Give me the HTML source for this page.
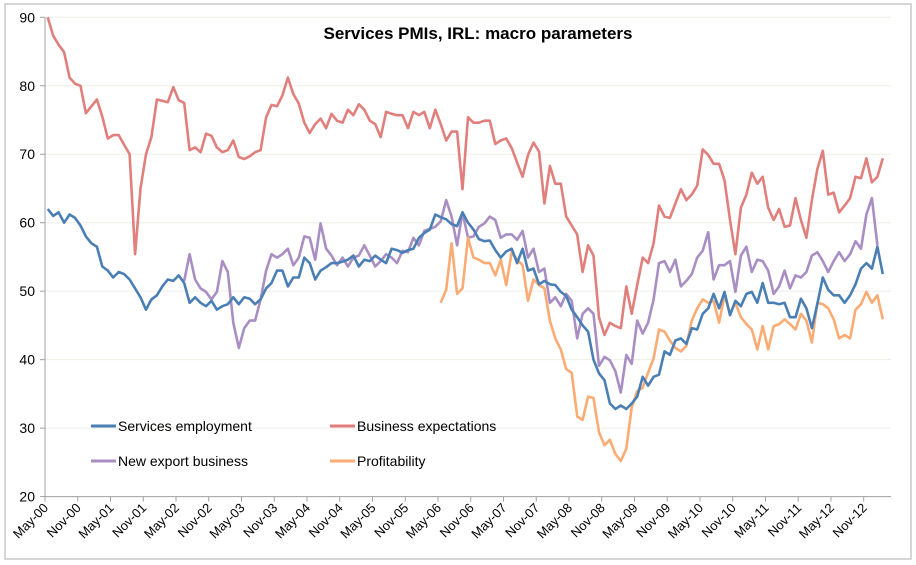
<!DOCTYPE html>
<html><head><meta charset="utf-8"><style>
html,body{margin:0;padding:0;background:#fff;}
svg{display:block;font-family:"Liberation Sans",Calibri,sans-serif;}
</style></head><body>
<svg id="chart" width="916" height="565" viewBox="0 0 916 565">
<rect x="5" y="4" width="906" height="555" fill="#fff" stroke="#c8c8c8" stroke-width="1.5"/>
<text x="478" y="39" text-anchor="middle" font-size="17" font-weight="bold" fill="#000">Services PMIs, IRL: macro parameters</text>
<g id="grid"></g><g id="axes"></g><g id="series"></g>
<g>
<g><line x1="91" y1="426" x2="116" y2="426" stroke="#4a7fb5" stroke-width="3"/><text x="118" y="431" font-size="14">Services employment</text></g>
<g><line x1="330" y1="426" x2="355" y2="426" stroke="#e07f7c" stroke-width="3"/><text x="357" y="431" font-size="14">Business expectations</text></g>
<g><line x1="91" y1="461" x2="116" y2="461" stroke="#a98ec3" stroke-width="3"/><text x="118" y="466" font-size="14">New export business</text></g>
<g><line x1="330" y1="461" x2="355" y2="461" stroke="#fbab74" stroke-width="3"/><text x="357" y="466" font-size="14">Profitability</text></g>
</g>
</svg>
<script>
const tickLabels = ["May-00","Nov-00","May-01","Nov-01","May-02","Nov-02","May-03","Nov-03","May-04","Nov-04","May-05","Nov-05","May-06","Nov-06","May-07","Nov-07","May-08","Nov-08","May-09","Nov-09","May-10","Nov-10","May-11","Nov-11","May-12","Nov-12"];
const yTicks = [20,30,40,50,60,70,80,90];
const employment = [62,61,61.5,60,61.2,60.7,59.6,58,57,56.5,53.6,53,52,52.8,52.5,51.7,50.4,49.1,47.3,48.8,49.4,50.7,51.7,51.5,52.3,51.2,48.3,49.1,48.3,47.8,48.6,47.3,47.8,48.1,49.1,48.1,49.1,48.9,48.1,48.8,50.4,51.2,53,53,50.7,52,52,54.9,54.1,51.7,53,53.5,54.1,54.1,54.3,54.6,55.2,53.6,54.6,54.4,55.2,54.6,54.1,56.2,56,55.6,56,56.2,57.8,58.5,59,61.2,60.8,60.5,59.8,59.5,61.5,60,59,57.6,57.3,57.4,56,54.9,55.8,56.2,54.1,56.2,53,53.3,51,51.5,51,50.9,49.9,49.3,47.3,46.2,45,44.1,40,38,37,33.6,32.8,33.3,32.8,33.6,34.6,37.5,36.2,37.5,37.8,41.2,40.7,42.8,43.1,42.3,44.6,44.4,46.7,47.5,49.6,47.5,49.9,46.5,48.6,47.8,49.6,49.9,48.3,51.2,48.3,48.3,48.1,48.3,46.2,46.2,48.9,47.5,44.6,48.1,52,50.2,49.4,49.4,48.3,49.4,51,53.3,54.1,53.3,56.5,52.5];
const expectations = [90,87.3,86,84.9,81.2,80.3,80,76,77,78,75.5,72.3,72.8,72.8,71.4,70,55.4,65,70,72.5,78,77.8,77.6,79.8,77.9,77.5,70.6,71,70.3,73,72.7,71,70.3,70.6,72,69.6,69.3,69.7,70.3,70.6,75.4,77.2,77,78.6,81.2,78.8,77.4,74.6,73.1,74.4,75.2,73.8,75.9,74.9,74.6,76.5,75.7,77.3,76.5,74.9,74.4,72.5,76.2,75.9,75.7,75.7,73.8,76.2,75.7,76.2,73.8,76.5,74.4,72,73.3,73.3,64.9,75.4,74.6,74.6,74.9,74.9,71.5,72,72.3,70.9,68.8,66.7,69.9,71.7,70.4,62.8,68.3,65.7,65.7,60.9,59.6,58.3,52.8,56.7,55.2,46.2,43.6,45.4,44.9,44.6,50.7,46.7,50.9,54.9,54.1,57,62.5,60.9,60.7,62.8,64.9,63.3,64.1,65.4,70.7,69.9,68.6,68.6,66.2,60.4,55.4,62.2,64.1,67.3,65.7,66.7,62.2,60.4,62,59.4,59.6,63.6,60.4,57.8,63.3,67.8,70.5,64.1,64.4,61.5,62.5,63.6,66.7,66.5,69.4,65.9,66.7,69.4];
const exportStart = 25;
const exportBiz = [51.5,55.4,51.7,50.4,49.9,48.8,49.9,54.4,52.8,45.4,41.7,44.6,45.7,45.7,48.8,53,55.4,54.9,55.4,56.2,53.8,54.9,58,57.8,54.6,59.9,56.2,55.2,53.8,54.9,53.6,54.9,55.2,56.7,55.2,53.6,54.4,55.4,54.9,54.1,55.9,55.7,57.8,56.7,58.8,59.1,59.4,60.2,63.3,60.9,56.7,61.5,57.8,58,59.4,59.9,60.9,60.4,57.8,58.3,58.3,57.5,58.8,54.9,56.2,52.8,53.3,48.3,49.1,47.8,49.6,48.6,43.1,46.7,47.5,46.7,39.1,40.4,39.9,38.3,35.2,40.7,39.4,45.7,43.8,45.4,48.8,54.1,54.4,52.8,54.6,50.7,51.5,52.5,54.9,55.9,58.6,51.7,53.8,53.8,54.4,49.9,55.2,56.5,52.8,54.6,54.4,53,49.6,50.7,53,50.4,52.3,52,52.8,55.2,55.7,54.4,52.8,54.4,55.7,54.4,55.4,57.3,56.2,61.2,63.6,56.7];
const profitStart = 72;
const profitability = [48.3,50.2,57,49.6,50.4,57.8,54.9,54.6,54.1,54.1,52.3,54.6,50.9,55.7,54.6,53.8,48.6,51.7,50.9,50.4,45.7,43.1,41.5,38.6,38.1,31.7,31.2,34.6,34.4,29.4,27.5,28.3,26.2,25.2,27,33,35.4,35.9,38.1,40.2,44.4,44.1,42.8,41.7,41.2,42,45.7,47.5,48.8,48.3,48.6,45.4,49.4,46.7,48.3,46.2,45.2,44.4,41.5,44.9,41.5,44.9,45.2,45.9,45.2,44.4,46.7,45.7,42.5,48.3,48.1,47.5,45.9,43.1,43.6,43.1,47.3,48.1,49.9,48.3,49.4,45.9];

const NS = "http://www.w3.org/2000/svg";
const X0 = 45, X1 = 891, NCAT = 155, YTOP = 17.3, YBOT = 496.6, YMIN = 20, YMAX = 90;
const cw = (X1 - X0) / NCAT;
function xScale(i){ return X0 + cw * (i + 0.5); }
function yScale(v){ return YBOT - (v - YMIN) / (YMAX - YMIN) * (YBOT - YTOP); }
function mk(tag, attrs, parent){ const e = document.createElementNS(NS, tag); for (const k in attrs) e.setAttribute(k, attrs[k]); parent.appendChild(e); return e; }

const grid = document.getElementById('grid'), axes = document.getElementById('axes'), ser = document.getElementById('series');
yTicks.forEach(v => {
  const y = yScale(v);
  const gl = mk('line', {x1: X0, x2: X1, y1: y, y2: y, stroke: v === YMIN ? '#a0a0a0' : '#efeee6', 'stroke-width': 1}, grid);
  
  
  mk('line', {x1: X0 - 5, x2: X0, y1: y, y2: y, stroke: '#a0a0a0'}, axes);
  const t = mk('text', {x: 35, y: y + 5, 'text-anchor': 'end', 'font-size': 14, fill: '#000'}, axes);
  t.textContent = v;
  
  
});
const ya = mk('line', {x1: X0, x2: X0, y1: YTOP, y2: YBOT, stroke: '#a0a0a0'}, axes);


tickLabels.forEach((lab, k) => {
  const x = X0 + cw * 6 * k;
  mk('line', {x1: x, x2: x, y1: YBOT, y2: YBOT + 5, stroke: '#a0a0a0'}, axes);
  const t = mk('text', {x: x + 4, y: YBOT + 12, 'text-anchor': 'end', 'font-size': 13, fill: '#000', transform: 'rotate(-45 ' + (x + 4) + ' ' + (YBOT + 12) + ')'}, axes);
  t.textContent = lab;
  
  
});
function drawSeries(vals, start, color, name){
  const pts = vals.map((v, j) => xScale(start + j).toFixed(1) + ',' + yScale(v).toFixed(1)).join(' ');
  const p = mk('polyline', {points: pts, fill: 'none', stroke: color, 'stroke-width': 2.6, 'stroke-linejoin': 'round'}, ser);
  
  
}
drawSeries(expectations, 0, '#e07f7c', 'line-business-expectations');
drawSeries(exportBiz, exportStart, '#a98ec3', 'line-new-export-business');
drawSeries(profitability, profitStart, '#fbab74', 'line-profitability');
drawSeries(employment, 0, '#4a7fb5', 'line-services-employment');
</script>
</body></html>
